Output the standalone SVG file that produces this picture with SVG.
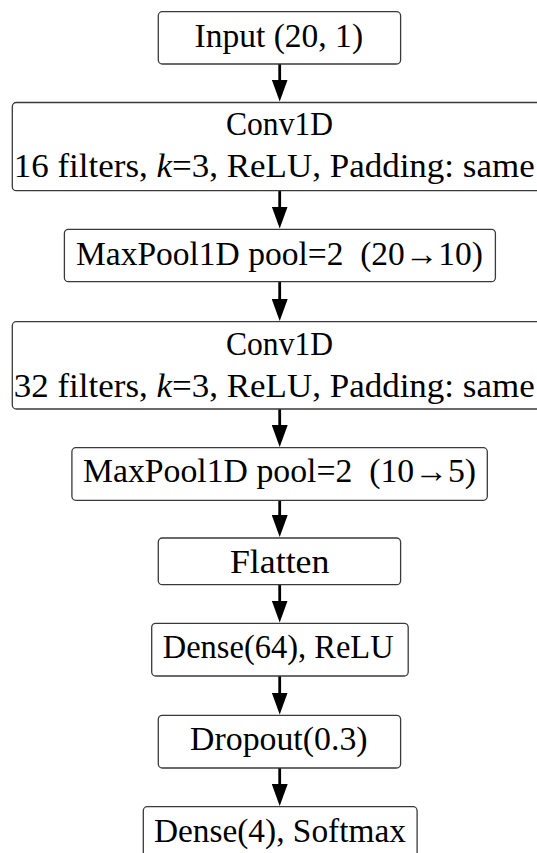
<svg xmlns="http://www.w3.org/2000/svg" width="537" height="853" viewBox="0 0 537 853">
<style>
.box{fill:#fff;stroke:#3a3a3a;stroke-width:1.3}
.t{font-family:"Liberation Serif","Times New Roman",serif;font-size:33px;fill:#000;text-anchor:middle}
.ts{text-anchor:start}
.edge{stroke:#000;stroke-width:2.8;fill:none;marker-end:url(#ah)}
</style>
<defs>
<marker id="ah" markerUnits="userSpaceOnUse" viewBox="0 0 22 16" markerWidth="22" markerHeight="16" refX="10" refY="8" orient="auto">
<path d="M0,0 L22,8 L0,16 Z" fill="#000"/>
</marker>
</defs>
<rect width="537" height="853" fill="#fff"/>
<g id="connectors">
<line class="edge" x1="279.7" y1="64" x2="279.7" y2="89.5"/>
<line class="edge" x1="279.7" y1="190.7" x2="279.7" y2="216.5"/>
<line class="edge" x1="279.7" y1="281.7" x2="279.7" y2="309"/>
<line class="edge" x1="279.7" y1="409" x2="279.7" y2="435"/>
<line class="edge" x1="279.7" y1="500.3" x2="279.7" y2="525"/>
<line class="edge" x1="279.7" y1="584.7" x2="279.7" y2="610.5"/>
<line class="edge" x1="279.7" y1="676" x2="279.7" y2="702.5"/>
<line class="edge" x1="279.7" y1="768" x2="279.7" y2="794"/>
</g>
<g id="input">
<rect class="box" x="158.3" y="11.7" width="242.3" height="52.3" rx="4"/>
<text class="t" x="278.8" y="47.3" textLength="168.5" lengthAdjust="spacingAndGlyphs">Input (20, 1)</text>
</g>
<g id="conv1">
<rect class="box" x="12.3" y="102.5" width="535.4" height="88.2" rx="4"/>
<text class="t" x="279.5" y="135" textLength="107" lengthAdjust="spacingAndGlyphs">Conv1D</text>
<text class="t ts" x="13.7" y="176.5" textLength="521" lengthAdjust="spacingAndGlyphs">16 filters, <tspan font-style="italic">k</tspan>=3, ReLU, Padding:  same</text>
</g>
<g id="maxpool1">
<rect class="box" x="64.4" y="229.3" width="431" height="52.4" rx="4"/>
<text class="t" x="279.5" y="265" textLength="407" lengthAdjust="spacingAndGlyphs">MaxPool1D pool=2&#160; (20→10)</text>
</g>
<g id="conv2">
<rect class="box" x="12.3" y="321.7" width="535.4" height="87.3" rx="4"/>
<text class="t" x="279.5" y="355" textLength="107" lengthAdjust="spacingAndGlyphs">Conv1D</text>
<text class="t ts" x="13.7" y="396.7" textLength="521" lengthAdjust="spacingAndGlyphs">32 filters, <tspan font-style="italic">k</tspan>=3, ReLU, Padding:  same</text>
</g>
<g id="maxpool2">
<rect class="box" x="71.9" y="447.7" width="415.4" height="52.6" rx="4"/>
<text class="t" x="279.5" y="482.3" textLength="393" lengthAdjust="spacingAndGlyphs">MaxPool1D pool=2&#160; (10→5)</text>
</g>
<g id="flatten">
<rect class="box" x="158.3" y="538" width="242.3" height="46.7" rx="4"/>
<text class="t" x="279.7" y="572.7" textLength="99.5" lengthAdjust="spacingAndGlyphs">Flatten</text>
</g>
<g id="dense64">
<rect class="box" x="151.7" y="623.3" width="256.5" height="52.7" rx="4"/>
<text class="t" x="278.2" y="658.3" textLength="231" lengthAdjust="spacingAndGlyphs">Dense(64), ReLU</text>
</g>
<g id="dropout">
<rect class="box" x="158.3" y="715.3" width="242.3" height="52.7" rx="4"/>
<text class="t" x="278.8" y="750" textLength="177.5" lengthAdjust="spacingAndGlyphs">Dropout(0.3)</text>
</g>
<g id="dense4">
<rect class="box" x="143.3" y="806.7" width="273.8" height="56" rx="4"/>
<text class="t" x="279.9" y="841.7" textLength="252" lengthAdjust="spacingAndGlyphs">Dense(4), Softmax</text>
</g>
</svg>
